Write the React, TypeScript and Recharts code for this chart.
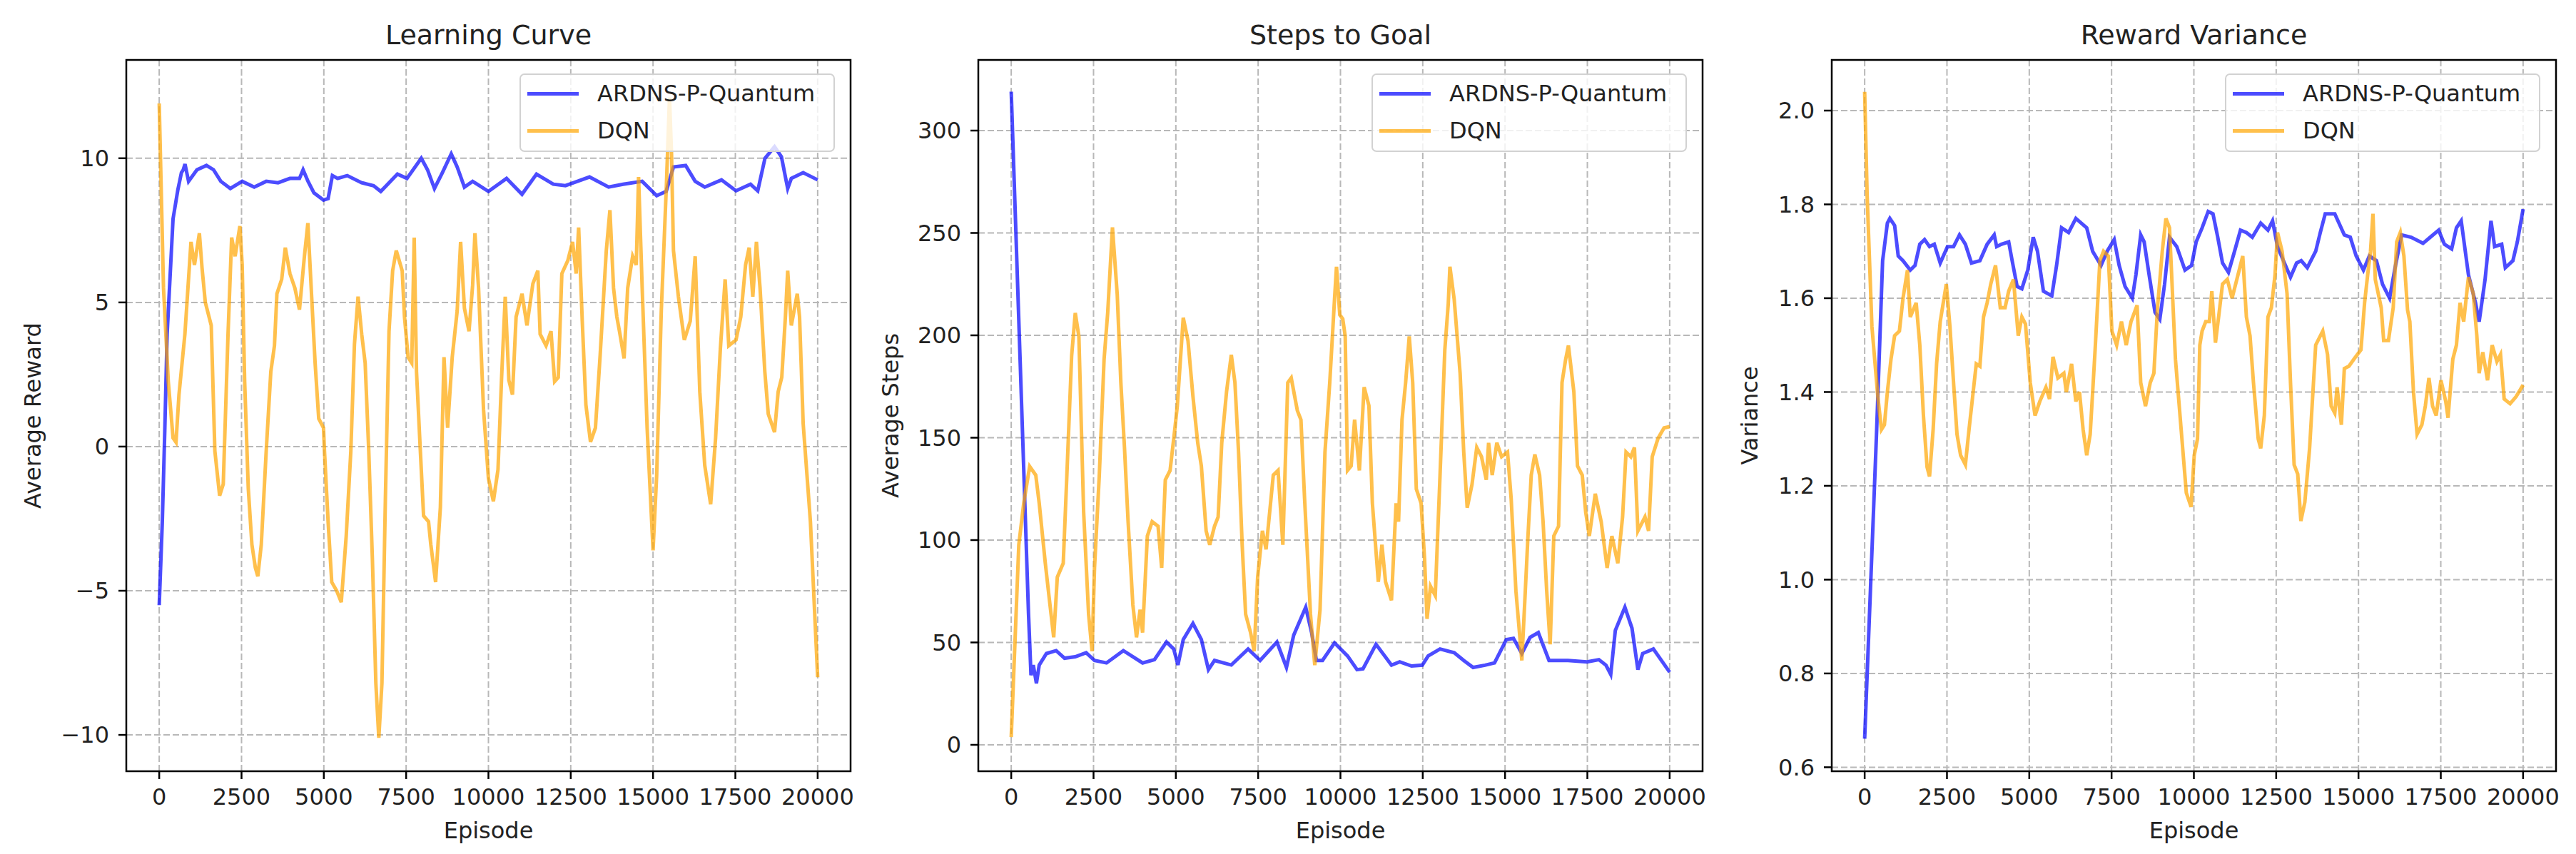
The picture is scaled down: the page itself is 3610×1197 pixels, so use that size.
import { LineChart, Line, XAxis, YAxis, CartesianGrid, Legend, ReferenceArea } from 'recharts';

const FONT = '"DejaVu Sans", Verdana, sans-serif';
const TEXT = '#222';
const ARDNS_COLOR = 'blue';
const DQN_COLOR = 'orange';

const episodeTicks = [0, 2500, 5000, 7500, 10000, 12500, 15000, 17500, 20000];
const rewardTicks = [-10, -5, 0, 5, 10];
const stepsTicks = [0, 50, 100, 150, 200, 250, 300];
const varianceTicks = [0.6, 0.8, 1.0, 1.2, 1.4, 1.6, 1.8, 2.0];

// Learning Curve
const rewardArdnsEp = [0, 94, 170, 240, 420, 565, 675, 730, 783, 892, 1145, 1435, 1650, 1870, 2160, 2520, 2885, 3250, 3610, 3970, 4260, 4370, 4520, 4700, 4990, 5130, 5260, 5420, 5710, 6150, 6510, 6730, 7235, 7525, 7960, 8150, 8360, 8600, 8870, 9050, 9270, 9520, 10000, 10550, 11020, 11460, 11970, 12340, 13070, 13650, 14090, 14670, 15110, 15400, 15620, 15990, 16280, 16570, 17080, 17520, 17960, 18180, 18400, 18690, 18900, 19090, 19200, 19560, 20000];
const rewardArdnsVal = [-5.5, -2.6, 0.6, 3.9, 7.9, 8.9, 9.5, 9.6, 9.8, 9.2, 9.6, 9.75, 9.6, 9.2, 8.95, 9.2, 9.0, 9.2, 9.15, 9.3, 9.3, 9.6, 9.2, 8.8, 8.55, 8.6, 9.4, 9.3, 9.4, 9.15, 9.05, 8.85, 9.45, 9.3, 10.0, 9.6, 8.95, 9.5, 10.15, 9.7, 9.0, 9.2, 8.85, 9.3, 8.75, 9.45, 9.1, 9.05, 9.35, 9.0, 9.1, 9.2, 8.7, 8.85, 9.7, 9.75, 9.2, 9.0, 9.25, 8.87, 9.1, 8.87, 10.0, 10.4, 10.05, 8.95, 9.3, 9.5, 9.25];

const rewardDqnEp = [0, 130, 275, 420, 510, 600, 780, 965, 1070, 1220, 1300, 1400, 1580, 1690, 1835, 1945, 2090, 2200, 2305, 2450, 2520, 2595, 2705, 2815, 2920, 2995, 3100, 3250, 3390, 3500, 3575, 3720, 3830, 3970, 4120, 4260, 4410, 4515, 4630, 4735, 4845, 4990, 5020, 5130, 5240, 5390, 5530, 5680, 5820, 5930, 6040, 6150, 6255, 6365, 6475, 6580, 6670, 6765, 6870, 6980, 7090, 7200, 7380, 7450, 7560, 7670, 7745, 7815, 7925, 8030, 8180, 8250, 8395, 8540, 8650, 8760, 8900, 9050, 9155, 9270, 9410, 9520, 9590, 9700, 9850, 10000, 10150, 10290, 10400, 10510, 10620, 10730, 10840, 11020, 11170, 11350, 11500, 11570, 11750, 11900, 12010, 12120, 12230, 12410, 12555, 12665, 12740, 12850, 12960, 13100, 13250, 13395, 13580, 13690, 13800, 13900, 13980, 14120, 14230, 14380, 14490, 14560, 14670, 14820, 15000, 15110, 15250, 15400, 15500, 15560, 15620, 15770, 15950, 16130, 16280, 16420, 16570, 16750, 16900, 17045, 17190, 17300, 17520, 17665, 17810, 17920, 18030, 18140, 18250, 18395, 18500, 18690, 18800, 18910, 19020, 19090, 19200, 19380, 19450, 19560, 19780, 20000];
const rewardDqnVal = [11.9, 5.5, 2.26, 0.3, 0.15, 1.8, 3.9, 7.1, 6.3, 7.4, 6.2, 5.0, 4.2, -0.15, -1.7, -1.3, 3.9, 7.25, 6.6, 7.65, 6.3, 2.26, -1.45, -3.4, -4.2, -4.5, -3.4, -0.15, 2.6, 3.5, 5.3, 5.8, 6.9, 6.0, 5.5, 4.75, 6.6, 7.75, 5.2, 2.9, 0.97, 0.65, -0.16, -2.6, -4.7, -5.0, -5.4, -3.1, -0.16, 3.55, 5.2, 3.9, 2.9, -0.16, -3.9, -8.2, -10.1, -8.2, -1.8, 4.0, 6.1, 6.8, 6.1, 4.5, 3.1, 2.9, 7.25, 2.6, 0, -2.4, -2.6, -3.4, -4.7, -2.1, 3.1, 0.65, 3.1, 4.7, 7.1, 4.8, 4.0, 5.6, 7.4, 5.5, 1.3, -1.1, -1.9, -0.8, 2.4, 5.2, 2.3, 1.8, 4.5, 5.3, 4.2, 5.65, 6.1, 3.9, 3.5, 4.0, 2.26, 2.4, 6.0, 6.45, 7.1, 6.0, 7.6, 4.35, 1.45, 0.16, 0.65, 3.2, 6.8, 8.2, 5.5, 4.5, 4.0, 3.06, 5.5, 6.6, 6.3, 9.35, 5.5, 0.65, -3.6, -1.0, 4.7, 8.9, 12.1, 10.2, 6.8, 5.2, 3.7, 4.35, 6.6, 1.9, -0.65, -2.0, 0.3, 3.4, 5.8, 3.5, 3.7, 4.5, 6.3, 6.9, 5.2, 7.1, 5.5, 2.6, 1.13, 0.5, 1.9, 2.4, 4.5, 6.1, 4.2, 5.3, 4.5, 0.8, -2.6, -8.0];

// Steps to Goal
const stepsArdnsEp = [0, 525, 600, 670, 765, 850, 1070, 1365, 1620, 1945, 2275, 2530, 2895, 3405, 3990, 4350, 4715, 4935, 5065, 5225, 5520, 5775, 5990, 6175, 6685, 7195, 7560, 8070, 8360, 8580, 8945, 9125, 9270, 9455, 9820, 10215, 10505, 10685, 11080, 11550, 11800, 12160, 12485, 12665, 13025, 13455, 13745, 14030, 14390, 14680, 15040, 15255, 15510, 15760, 16010, 16335, 16910, 17490, 17850, 18065, 18210, 18350, 18640, 18855, 19035, 19180, 19505, 20000];
const stepsArdnsVal = [319, 64, 34, 39, 30, 39, 44.6, 46, 42.3, 43, 45, 41.2, 40, 46, 40, 41.6, 50.2, 46.8, 39, 51.4, 59.3, 51.4, 36.7, 41.2, 39, 46.8, 41.2, 50.2, 37.8, 53.6, 67.2, 54.8, 41.2, 41.2, 49.8, 43.4, 36.7, 37.1, 49.1, 38.9, 40.5, 38.5, 38.9, 43.4, 46.8, 45, 41.2, 37.8, 38.9, 40, 51.4, 52, 44.6, 52.5, 54.8, 41.2, 41.2, 40.5, 41.6, 38.9, 34.4, 55.9, 67.2, 57, 36.7, 44.6, 46.8, 35.5];

const stepsDqnEp = [0, 230, 380, 560, 745, 850, 1035, 1145, 1290, 1400, 1580, 1690, 1835, 1945, 2055, 2200, 2350, 2455, 2530, 2675, 2820, 2930, 3075, 3220, 3330, 3440, 3550, 3695, 3805, 3915, 3990, 4135, 4280, 4460, 4570, 4680, 4825, 4970, 5045, 5225, 5370, 5520, 5665, 5775, 5920, 6030, 6175, 6285, 6395, 6540, 6685, 6795, 6905, 7015, 7120, 7270, 7380, 7485, 7630, 7740, 7960, 8105, 8250, 8400, 8505, 8690, 8800, 8910, 9090, 9220, 9380, 9530, 9675, 9820, 9880, 9980, 10070, 10145, 10215, 10325, 10430, 10575, 10720, 10865, 10970, 11150, 11260, 11370, 11550, 11690, 11765, 11870, 11980, 12090, 12195, 12305, 12450, 12555, 12630, 12735, 12880, 13025, 13170, 13275, 13325, 13455, 13635, 13745, 13850, 13995, 14140, 14285, 14430, 14500, 14610, 14750, 14895, 15075, 15185, 15330, 15510, 15615, 15690, 15795, 15905, 16050, 16155, 16265, 16370, 16480, 16625, 16730, 16840, 16925, 17090, 17200, 17345, 17450, 17560, 17740, 17920, 18100, 18245, 18425, 18570, 18675, 18820, 18930, 19035, 19250, 19360, 19470, 19650, 19830, 20000];
const stepsDqnVal = [3.8, 97.7, 118, 136, 131.7, 118, 88.7, 72.9, 52.5, 81.9, 88.7, 131.7, 190, 210.9, 199.5, 113.6, 63.8, 45.7, 86.4, 131.7, 188.2, 210.9, 252.7, 219.9, 176.9, 145.2, 109, 68.3, 52.5, 66, 54.8, 102, 109, 106.8, 86.4, 129.4, 134, 154.3, 165.6, 208.6, 197.3, 170.1, 147.5, 136.2, 104.5, 97.7, 106.8, 111.3, 147.5, 172.4, 190.5, 176.9, 143, 97.7, 63.8, 54.8, 45.7, 81.9, 104.5, 95.5, 131.7, 134, 97.7, 176.9, 179.2, 163.3, 158.8, 120.4, 63.8, 38.9, 66, 143, 176.9, 217.6, 233.5, 210, 208, 199.5, 134, 136.2, 158.8, 134, 174.7, 165.6, 118, 79.6, 97.7, 79.6, 70.6, 118, 109, 158.8, 176.9, 199.5, 176.9, 124.9, 118, 91, 61.5, 77.4, 72.9, 131.7, 192.8, 215.4, 233.5, 217.6, 181.4, 143, 115.8, 127.1, 145.2, 140.7, 129.4, 147.5, 131.7, 147.5, 140.7, 143, 120.4, 75.1, 41.2, 75.1, 100, 131.7, 141.8, 131.7, 109, 75.1, 49.1, 102, 106.8, 176.9, 188.2, 195, 172.4, 136.2, 131.7, 113.6, 102, 122.6, 109, 86.4, 102, 88.7, 111.3, 143, 140.7, 145.2, 104.5, 111.3, 104.5, 140.7, 149.8, 154.8, 155.4];

// Reward Variance
const varArdnsEp = [0, 365, 545, 690, 765, 910, 1020, 1165, 1385, 1530, 1675, 1820, 1970, 2115, 2295, 2515, 2700, 2880, 3060, 3245, 3500, 3720, 3935, 4010, 4155, 4375, 4480, 4630, 4775, 4955, 5120, 5250, 5430, 5685, 5830, 5980, 6195, 6415, 6745, 6925, 7180, 7365, 7580, 7730, 7910, 8130, 8240, 8385, 8490, 8640, 8820, 8965, 9110, 9260, 9480, 9730, 9930, 10070, 10250, 10435, 10580, 10725, 10870, 11050, 11235, 11415, 11595, 11775, 12030, 12250, 12390, 12540, 12720, 12935, 13120, 13260, 13445, 13700, 13840, 13990, 14280, 14570, 14750, 14930, 15150, 15330, 15545, 15730, 15945, 16125, 16310, 16600, 16960, 17180, 17435, 17610, 17830, 17975, 18120, 18340, 18555, 18665, 18845, 19025, 19135, 19350, 19460, 19690, 19825, 20000];
const varArdnsVal = [0.661, 1.32, 1.68, 1.76, 1.77, 1.755, 1.69, 1.68, 1.66, 1.67, 1.715, 1.725, 1.71, 1.715, 1.675, 1.71, 1.71, 1.735, 1.715, 1.675, 1.68, 1.715, 1.735, 1.71, 1.715, 1.72, 1.68, 1.625, 1.62, 1.66, 1.73, 1.70, 1.615, 1.605, 1.67, 1.75, 1.74, 1.77, 1.75, 1.70, 1.67, 1.70, 1.725, 1.67, 1.625, 1.60, 1.65, 1.735, 1.72, 1.65, 1.57, 1.555, 1.63, 1.73, 1.71, 1.66, 1.67, 1.72, 1.75, 1.785, 1.78, 1.73, 1.675, 1.655, 1.70, 1.745, 1.74, 1.73, 1.76, 1.745, 1.765, 1.71, 1.68, 1.645, 1.675, 1.68, 1.665, 1.70, 1.74, 1.78, 1.78, 1.735, 1.73, 1.69, 1.66, 1.69, 1.68, 1.63, 1.60, 1.67, 1.735, 1.73, 1.717, 1.73, 1.745, 1.715, 1.705, 1.75, 1.765, 1.65, 1.59, 1.55, 1.64, 1.765, 1.71, 1.715, 1.665, 1.68, 1.72, 1.79];

const varDqnEp = [0, 75, 220, 400, 510, 600, 690, 800, 910, 1055, 1165, 1300, 1385, 1565, 1675, 1785, 1895, 1970, 2080, 2185, 2295, 2480, 2590, 2700, 2805, 2915, 3060, 3170, 3280, 3390, 3500, 3610, 3720, 3830, 3975, 4120, 4265, 4375, 4520, 4665, 4775, 4885, 5030, 5175, 5320, 5505, 5615, 5720, 5870, 6050, 6125, 6285, 6415, 6525, 6635, 6745, 6850, 7000, 7145, 7255, 7400, 7510, 7655, 7800, 7945, 8090, 8275, 8385, 8530, 8675, 8785, 8895, 9040, 9150, 9260, 9440, 9625, 9770, 9915, 10010, 10110, 10180, 10250, 10360, 10470, 10545, 10655, 10760, 10870, 11015, 11160, 11305, 11485, 11595, 11705, 11810, 11955, 12030, 12140, 12250, 12355, 12465, 12540, 12680, 12830, 12935, 13045, 13155, 13250, 13370, 13515, 13700, 13915, 14060, 14170, 14280, 14350, 14480, 14570, 14710, 14860, 15075, 15185, 15295, 15365, 15440, 15510, 15690, 15765, 15910, 16055, 16160, 16270, 16380, 16490, 16560, 16670, 16780, 16925, 17030, 17140, 17250, 17360, 17505, 17650, 17720, 17865, 17975, 18085, 18195, 18340, 18485, 18595, 18665, 18775, 18920, 19060, 19205, 19315, 19425, 19605, 19785, 20000];
const varDqnVal = [2.04, 1.82, 1.54, 1.39, 1.32, 1.33, 1.40, 1.47, 1.52, 1.53, 1.60, 1.66, 1.56, 1.59, 1.50, 1.35, 1.24, 1.22, 1.32, 1.46, 1.55, 1.63, 1.54, 1.42, 1.31, 1.265, 1.245, 1.32, 1.39, 1.46, 1.455, 1.56, 1.59, 1.63, 1.67, 1.58, 1.58, 1.615, 1.64, 1.52, 1.56, 1.545, 1.42, 1.35, 1.38, 1.41, 1.385, 1.475, 1.43, 1.44, 1.40, 1.46, 1.38, 1.40, 1.32, 1.265, 1.31, 1.49, 1.68, 1.70, 1.69, 1.53, 1.50, 1.55, 1.50, 1.55, 1.585, 1.42, 1.37, 1.42, 1.44, 1.58, 1.70, 1.77, 1.75, 1.47, 1.31, 1.185, 1.155, 1.265, 1.30, 1.50, 1.53, 1.55, 1.55, 1.615, 1.505, 1.565, 1.63, 1.64, 1.60, 1.64, 1.69, 1.56, 1.52, 1.42, 1.30, 1.28, 1.35, 1.56, 1.58, 1.65, 1.74, 1.70, 1.61, 1.42, 1.245, 1.225, 1.125, 1.165, 1.28, 1.50, 1.53, 1.48, 1.37, 1.355, 1.41, 1.33, 1.45, 1.455, 1.47, 1.49, 1.59, 1.66, 1.70, 1.78, 1.64, 1.58, 1.51, 1.51, 1.58, 1.72, 1.74, 1.69, 1.575, 1.55, 1.40, 1.31, 1.33, 1.37, 1.43, 1.37, 1.35, 1.425, 1.38, 1.345, 1.47, 1.50, 1.59, 1.55, 1.645, 1.61, 1.52, 1.44, 1.485, 1.425, 1.50, 1.465, 1.48, 1.385, 1.375, 1.39, 1.415];

const zip = (eps: number[], vals: number[]) => eps.map((ep, i) => ({ ep, v: vals[i] }));

const minusFmt = (v: number) => (v < 0 ? '\u2212' + Math.abs(v) : String(v));

const CHART_W = 1200;
const CHART_H = 1197;
const PLOT_LEFT = 177;
const PLOT_W = 1015;
const PLOT_TOP = 84;
const X_AXIS_H = 116;
const LINE_W = 5;

function LegendBox() {
  const rows: [string, string][] = [['ARDNS-P-Quantum', ARDNS_COLOR], ['DQN', DQN_COLOR]];
  return (
    <div
      style={{
        width: 442,
        height: 110,
        boxSizing: 'border-box',
        border: '2px solid #d2d2d2',
        borderRadius: 7,
        background: 'rgba(255,255,255,0.8)',
        fontFamily: FONT,
        fontSize: 32,
        color: TEXT,
      }}
    >
      {rows.map(([name, c]) => (
        <div key={name} style={{ height: 52, display: 'flex', alignItems: 'center' }}>
          <span style={{ display: 'inline-block', width: 72, height: LINE_W, marginLeft: 9, marginRight: 26, background: c, opacity: 0.7 }} />
          <span>{name}</span>
        </div>
      ))}
    </div>
  );
}

type PanelProps = {
  left: number;
  title: string;
  yLabel: string;
  yLabelX: number;
  yDomain: [number, number];
  yTicks: number[];
  yFormat: (v: number) => string;
  ardns: { ep: number; v: number }[];
  dqn: { ep: number; v: number }[];
};

function Panel({ left, title, yLabel, yLabelX, yDomain, yTicks, yFormat, ardns, dqn }: PanelProps) {
  const marginLeft = 20;
  const tickStyle = { fill: TEXT, fontSize: 32, fontFamily: FONT };
  return (
    <div style={{ position: 'absolute', left, top: 0, width: CHART_W, height: CHART_H }}>
      <div
        style={{
          position: 'absolute',
          left: PLOT_LEFT,
          width: PLOT_W,
          top: 30,
          textAlign: 'center',
          fontSize: 38,
          lineHeight: '38px',
          fontFamily: FONT,
          color: TEXT,
        }}
      >
        {title}
      </div>
      <LineChart
        width={CHART_W}
        height={CHART_H}
        margin={{ top: PLOT_TOP, right: CHART_W - PLOT_LEFT - PLOT_W, bottom: 0, left: marginLeft }}
      >
        <CartesianGrid stroke="#b8b8b8" strokeWidth={2} strokeDasharray="9 4" />
        <XAxis
          dataKey="ep"
          type="number"
          domain={[-1000, 21000]}
          ticks={episodeTicks}
          allowDataOverflow
          interval={0}
          height={X_AXIS_H}
          axisLine={false}
          tickSize={11}
          tickMargin={13}
          tickLine={{ stroke: '#000', strokeWidth: 2.5 }}
          tick={tickStyle}
          label={{ value: 'Episode', position: 'insideBottom', offset: 22, ...tickStyle }}
        />
        <YAxis
          type="number"
          domain={yDomain}
          ticks={yTicks}
          allowDataOverflow
          interval={0}
          width={PLOT_LEFT - marginLeft}
          axisLine={false}
          tickSize={11}
          tickMargin={13}
          tickLine={{ stroke: '#000', strokeWidth: 2.5 }}
          tick={tickStyle}
          tickFormatter={yFormat}
          label={{
            value: yLabel,
            angle: -90,
            position: 'insideLeft',
            offset: yLabelX - marginLeft,
            style: { textAnchor: 'middle' },
            ...tickStyle,
          }}
        />
        <Line
          data={ardns}
          dataKey="v"
          name="ARDNS-P-Quantum"
          type="linear"
          stroke={ARDNS_COLOR}
          strokeOpacity={0.7}
          strokeWidth={LINE_W}
          dot={false}
          activeDot={false}
          isAnimationActive={false}
        />
        <Line
          data={dqn}
          dataKey="v"
          name="DQN"
          type="linear"
          stroke={DQN_COLOR}
          strokeOpacity={0.7}
          strokeWidth={LINE_W}
          dot={false}
          activeDot={false}
          isAnimationActive={false}
        />
        <ReferenceArea
          x1={-1000}
          x2={21000}
          y1={yDomain[0]}
          y2={yDomain[1]}
          fill="none"
          fillOpacity={0}
          stroke="#000"
          strokeWidth={2.5}
          ifOverflow="visible"
        />
        <Legend
          layout="vertical"
          align="center"
          verticalAlign="middle"
          wrapperStyle={{ top: 103, left: PLOT_LEFT + PLOT_W - 22 - 442, width: 442, height: 110 }}
          content={() => <LegendBox />}
        />
      </LineChart>
    </div>
  );
}

export default function App() {
  return (
    <div style={{ position: 'absolute', left: 0, top: 0, width: 3610, height: 1197, background: '#fff' }}>
      <Panel
        left={0}
        title="Learning Curve"
        yLabel="Average Reward"
        yLabelX={46}
        yDomain={[-11.26, 13.41]}
        yTicks={rewardTicks}
        yFormat={minusFmt}
        ardns={zip(rewardArdnsEp, rewardArdnsVal)}
        dqn={zip(rewardDqnEp, rewardDqnVal)}
      />
      <Panel
        left={1194}
        title="Steps to Goal"
        yLabel="Average Steps"
        yLabelX={54}
        yDomain={[-12.9, 334.5]}
        yTicks={stepsTicks}
        yFormat={minusFmt}
        ardns={zip(stepsArdnsEp, stepsArdnsVal)}
        dqn={zip(stepsDqnEp, stepsDqnVal)}
      />
      <Panel
        left={2390}
        title="Reward Variance"
        yLabel="Variance"
        yLabelX={62}
        yDomain={[0.5915, 2.108]}
        yTicks={varianceTicks}
        yFormat={(v: number) => v.toFixed(1)}
        ardns={zip(varArdnsEp, varArdnsVal)}
        dqn={zip(varDqnEp, varDqnVal)}
      />
    </div>
  );
}
